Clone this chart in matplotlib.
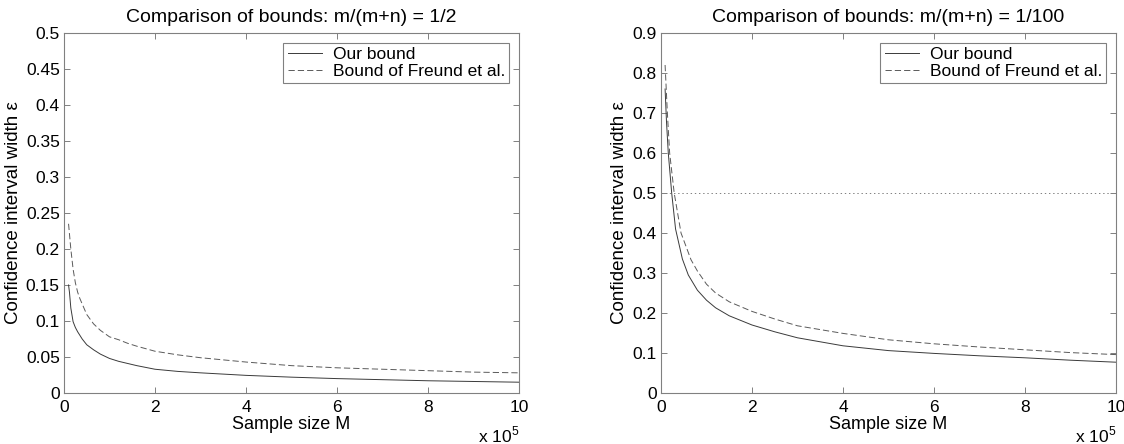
#Importing numpy and pyplot
import numpy as np
import matplotlib.pyplot as plt

plt.rcParams['font.family'] = ['Liberation Sans', 'DejaVu Sans']
plt.rcParams['lines.scale_dashes'] = False

#Sample size M (units of 1e5)
#Left panel: m/(m+n) = 1/2
m_half = [0.1, 0.12, 0.15, 0.2, 0.25, 0.3, 0.4, 0.5, 0.65, 0.8, 1.0, 1.2, 1.4, 1.6, 2, 2.5, 3, 4, 5, 6, 7, 8, 9, 10]
ours_half = [0.150, 0.140, 0.118, 0.099, 0.091, 0.085, 0.075, 0.067, 0.060, 0.054, 0.048, 0.044,
             0.041, 0.038, 0.033, 0.030, 0.028, 0.0245, 0.022, 0.020, 0.0185, 0.017, 0.016, 0.015]
f_half_m = [0.1, 0.15, 0.2, 0.25, 0.3, 0.35, 0.5, 0.65, 0.8, 1.0, 1.2, 1.4, 1.6, 2, 2.5, 3, 4, 5, 6, 7, 8, 9, 10]
freund_half = [0.235, 0.200, 0.172, 0.153, 0.140, 0.131, 0.109, 0.096, 0.087, 0.078, 0.074, 0.069,
               0.065, 0.058, 0.053, 0.049, 0.043, 0.038, 0.035, 0.033, 0.031, 0.029, 0.028]

#Right panel: m/(m+n) = 1/100
m_hund = [0.09, 0.12, 0.16, 0.235, 0.32, 0.47, 0.6, 0.8, 1.0, 1.2, 1.5, 2, 2.5, 3, 4, 5, 6, 7, 8, 9, 10]
ours_hund = [0.76, 0.68, 0.60, 0.50, 0.41, 0.335, 0.295, 0.257, 0.232, 0.213, 0.193, 0.170,
             0.153, 0.138, 0.118, 0.106, 0.099, 0.093, 0.088, 0.082, 0.077]
f_hund_m = [0.09, 0.14, 0.19, 0.29, 0.44, 0.66, 0.8, 1.0, 1.2, 1.5, 2, 2.5, 3, 4, 5, 6, 7, 8, 9, 10]
freund_hund = [0.82, 0.70, 0.60, 0.50, 0.40, 0.333, 0.305, 0.272, 0.250, 0.228, 0.204, 0.185, 0.168,
               0.149, 0.133, 0.123, 0.115, 0.108, 0.101, 0.096]

titles = ['Comparison of bounds: m/(m+n) = 1/2', 'Comparison of bounds: m/(m+n) = 1/100']
ylims = [0.5, 0.9]
ysteps = [0.05, 0.1]
ref_level = 0.5  #dotted line in right panel

fig = plt.figure(figsize=(11.24, 4.44), dpi=100)
ax1 = fig.add_axes([64/1124, 51/444, 455/1124, 360/444])
ax2 = fig.add_axes([661/1124, 51/444, 455/1124, 360/444])

data = [(m_half, ours_half, f_half_m, freund_half), (m_hund, ours_hund, f_hund_m, freund_hund)]

for i, ax in enumerate([ax1, ax2]):
    x1, y1, x2, y2 = data[i]
    if i == 1:
        ax.axhline(ref_level, color='#808080', lw=0.7, dashes=(1, 2))
    ax.plot(x1, y1, color='#3a3a3a', lw=0.7, label='Our bound')
    ax.plot(x2, y2, color='#5a5a5a', lw=0.7, dashes=(4.5, 2.2), label='Bound of Freund et al.')
    ax.set_xlim(0, 10)
    ax.set_ylim(0, ylims[i])
    ax.set_xticks(np.arange(0, 11, 2))
    yt = np.round(np.arange(0, ylims[i] + 1e-9, ysteps[i]), 2)
    ax.set_yticks(yt)
    ax.set_yticklabels(['%g' % v for v in yt])
    ax.tick_params(direction='in', top=True, right=True, length=4, width=0.7,
                   color='#808080', labelsize=12.5, pad=3)
    ax.tick_params(axis='x', pad=5)
    for s in ax.spines.values():
        s.set_color('#808080')
        s.set_linewidth(0.8)
    ax.set_title(titles[i], fontsize=14, pad=8)
    ax.set_xlabel('Sample size M', fontsize=13, labelpad=1)
    ax.set_ylabel('Confidence interval width ε', fontsize=13.5, labelpad=3)
    ax.text(1.0, -0.136, r'x 10$^{\mathregular{5}}$', transform=ax.transAxes,
            ha='right', va='baseline', fontsize=12.5)
    leg = ax.legend(loc='upper right', fancybox=False, framealpha=1, edgecolor='#808080',
                    fontsize=12.5, handlelength=2.0, handletextpad=0.6, labelspacing=0.1,
                    borderpad=0.25, borderaxespad=0.55)
    leg.get_frame().set_linewidth(0.8)

plt.savefig('out.png', dpi=100)
